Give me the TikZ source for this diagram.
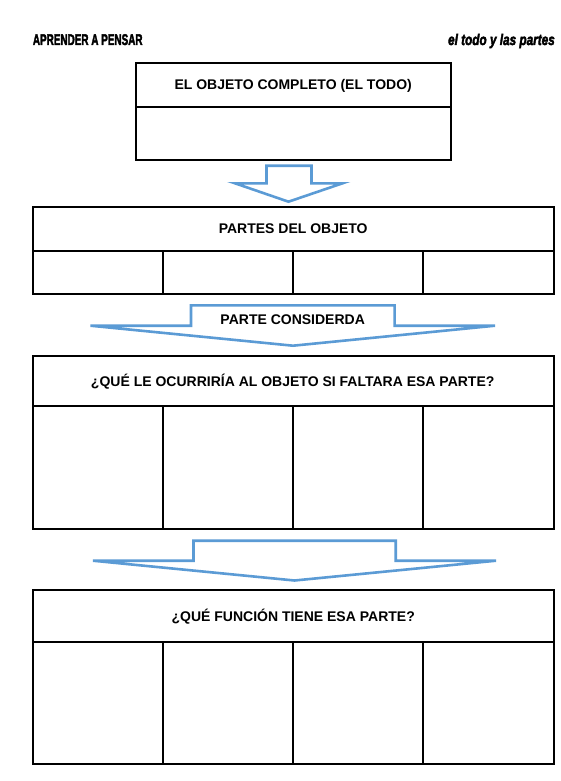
\documentclass[tikz,border=0pt]{standalone}
\usepackage{fontspec}
\usepackage{graphicx}
\setmainfont{Liberation Sans}
\newfontfamily\hdrfont{Liberation Sans}[BoldFeatures={FakeBold=3},BoldItalicFeatures={FakeBold=3}]
\definecolor{arrowblue}{RGB}{91,155,213}
\begin{document}
\begin{tikzpicture}[x=1pt,y=-1pt,
  cell/.style={draw=black, line width=2pt, inner sep=0pt, outer sep=0pt, anchor=north west},
  lbl/.style={font=\bfseries\fontsize{14}{16}\selectfont, inner sep=0pt, anchor=base},
  bigarrow/.style={draw=arrowblue, line width=2.6pt, line join=miter},
  hdr/.style={inner sep=0pt, font=\hdrfont\bfseries\fontsize{15.5}{17}\selectfont}]
\useasboundingbox (0,0) rectangle (560,781);
\fill[white] (0,0) rectangle (560,781);

% header texts
\node[hdr, anchor=base west] (hleft) at (32.7,45) {\scalebox{0.64}[1]{APRENDER A PENSAR}};
\node[hdr, anchor=base east] (hright) at (555,45) {\scalebox{0.76}[1]{\itshape el todo y las partes}};

% box 1
\node[cell, minimum width=314.5pt, minimum height=44pt] (b1h) at (136,62.7) {};
\node[cell, minimum width=314.5pt, minimum height=52.8pt] (b1b) at (136,106.7) {};
\node[lbl] (t1) at (293.2,89.7) {EL OBJETO COMPLETO (EL TODO)};

% arrow 1
\draw[bigarrow] (266.5,165.7) -- (311.5,165.7) -- (311.5,183.3) -- (342.5,183.3)
  -- (288.5,201.7) -- (235,183.3) -- (266.5,183.3) -- cycle;

% box 2
\node[cell, minimum width=520.5pt, minimum height=44pt] (b2h) at (33,206.7) {};
\foreach \i/\x in {1/33,2/163.125,3/293.25,4/423.375}
  \node[cell, minimum width=130.125pt, minimum height=42.8pt] (b2c\i) at (\x,250.7) {};
\node[lbl] (t2) at (293.2,233.7) {PARTES DEL OBJETO};

% arrow 2
\draw[bigarrow] (191,305.3) -- (394.6,305.3) -- (394.6,325.7) -- (495,325.7)
  -- (293,345.7) -- (90.5,325.7) -- (191,325.7) -- cycle;
\node[lbl] (t3) at (292.7,324) {PARTE CONSIDERDA};

% box 3
\node[cell, minimum width=520.5pt, minimum height=50pt] (b3h) at (33,356) {};
\foreach \i/\x in {1/33,2/163.125,3/293.25,4/423.375}
  \node[cell, minimum width=130.125pt, minimum height=122.7pt] (b3c\i) at (\x,406) {};
\node[lbl] (t4) at (292.7,386.2) {¿QUÉ LE OCURRIRÍA AL OBJETO SI FALTARA ESA PARTE?};

% arrow 3
\draw[bigarrow] (193.5,540.7) -- (395.7,540.7) -- (395.7,560.7) -- (496,560.7)
  -- (294.5,580.5) -- (93,560.7) -- (193.5,560.7) -- cycle;

% box 4
\node[cell, minimum width=520.5pt, minimum height=51.7pt] (b4h) at (33,590) {};
\foreach \i/\x in {1/33,2/163.125,3/293.25,4/423.375}
  \node[cell, minimum width=130.125pt, minimum height=121.8pt] (b4c\i) at (\x,641.7) {};
\node[lbl] (t5) at (293.2,621.5) {¿QUÉ FUNCIÓN TIENE ESA PARTE?};
\end{tikzpicture}
\end{document}
